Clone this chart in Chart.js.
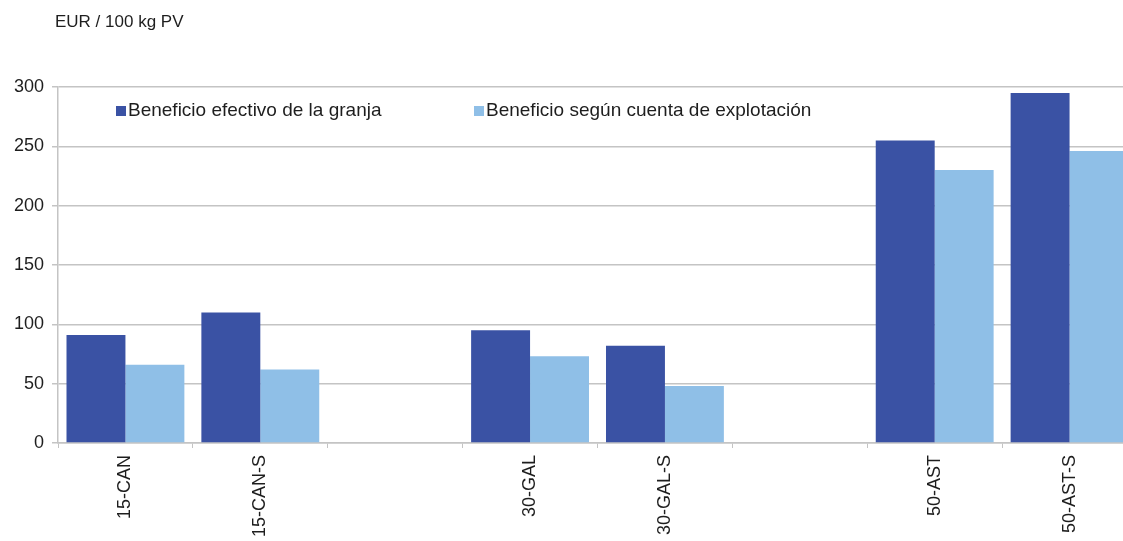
<!DOCTYPE html>
<html>
<head>
<meta charset="utf-8">
<script src="https://cdn.jsdelivr.net/npm/chart.js@4/dist/chart.umd.min.js"></script>
<style>
  html, body { margin: 0; padding: 0; background: #fff; overflow: hidden; }
  #wrap { width: 1123px; height: 541px; overflow: hidden; }
</style>
</head>
<body>
<div id="wrap"><canvas id="chart" width="1140" height="560"></canvas></div>
<script>
// Data
const categories = ['15-CAN', '15-CAN-S', '', '30-GAL', '30-GAL-S', '', '50-AST', '50-AST-S'];
const beneficioGranja = [91, 110, null, 95, 82, null, 255, 295];
const beneficioCuenta = [66, 62, null, 73, 48, null, 230, 246];
const seriesNames = ['Beneficio efectivo de la granja', 'Beneficio según cuenta de explotación'];
const yTicks = [0, 50, 100, 150, 200, 250, 300];
const unitLabel = 'EUR / 100 kg PV';

const darkBlue = '#3A52A4';
const lightBlue = '#8FBFE7';
const gridGray = '#c4c4c4';
const textColor = '#1e1e1e';
const fontFamily = '"Liberation Sans", Arial, Helvetica, sans-serif';

// title + legend drawn on top of the canvas
const overlay = {
    id: 'overlay',
    afterDraw(chart) {
        const ctx = chart.ctx;
        ctx.save();
        ctx.fillStyle = textColor;
        ctx.font = '17px ' + fontFamily;
        ctx.textBaseline = 'middle';
        ctx.textAlign = 'left';
        ctx.fillText(unitLabel, 55, 22);

        const spots = [116, 474];
        ctx.font = '19px ' + fontFamily;
        chart.data.datasets.forEach((ds, i) => {
            ctx.fillStyle = ds.backgroundColor;
            ctx.fillRect(spots[i], 106, 10, 10);
            ctx.fillStyle = textColor;
            ctx.fillText(ds.label, spots[i] + 12, 111);
        });
        ctx.restore();
    }
};

new Chart(document.getElementById('chart').getContext('2d'), {
    type: 'bar',
    data: {
        labels: categories,
        datasets: [
            { label: seriesNames[0], data: beneficioGranja, backgroundColor: darkBlue },
            { label: seriesNames[1], data: beneficioCuenta, backgroundColor: lightBlue }
        ]
    },
    options: {
        responsive: false,
        animation: false,
        devicePixelRatio: 1,
        layout: { padding: { top: 87, left: 0, right: 3, bottom: 0 } },
        datasets: { bar: { categoryPercentage: 0.874, barPercentage: 1.0 } },
        plugins: {
            legend: { display: false },
            tooltip: { enabled: false }
        },
        scales: {
            x: {
                offset: true,
                grid: { display: true, drawOnChartArea: false, drawTicks: true, tickLength: 5, color: gridGray, offset: true },
                border: { display: true, color: gridGray, width: 1.5 },
                ticks: {
                    color: textColor,
                    font: { size: 18, family: fontFamily },
                    minRotation: 90,
                    maxRotation: 90,
                    autoSkip: false,
                    padding: 7
                },
                afterFit(scale) { scale.height = 117; }
            },
            y: {
                min: 0,
                max: 300,
                afterBuildTicks(scale) { scale.ticks = yTicks.map(v => ({ value: v })); },
                grid: { color: gridGray, lineWidth: 1.5, tickLength: 6 },
                border: { display: true, color: gridGray, width: 1.5 },
                ticks: {
                    color: textColor,
                    font: { size: 18, family: fontFamily },
                    padding: 8
                },
                afterFit(scale) { scale.width = 58; }
            }
        }
    },
    plugins: [overlay]
});
</script>
</body>
</html>
